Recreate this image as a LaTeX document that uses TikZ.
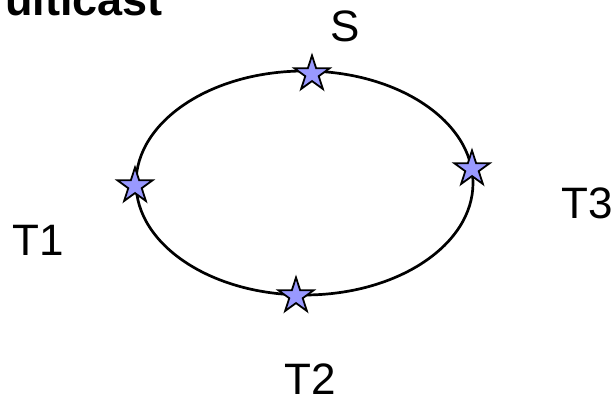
\documentclass[tikz,border=0pt]{standalone}
\usepackage{fontspec}
\setmainfont{Liberation Sans}
\usetikzlibrary{shapes.geometric}
\definecolor{starfill}{HTML}{9999FF}
\tikzset{
  site/.style={star, star points=5, star point ratio=2.618, minimum size=37pt, inner sep=0pt,
    draw=black, line width=1.8pt, fill=starfill},
  lbl/.style={inner sep=0pt, font=\fontsize{44}{50}\selectfont},
  ttl/.style={inner sep=0pt, font=\fontsize{45}{52}\selectfont\bfseries},
  ring/.style={draw=black, line width=2.7pt}
}
\begin{document}
\begin{tikzpicture}[x=1pt,y=-1pt]
\useasboundingbox (0,0) rectangle (613,401);
\clip (0,0) rectangle (613,401);
\node[ttl, anchor=base east] (title) at (163,16) {ulticast};
\draw[ring] (304.5,183) ellipse [x radius=168.5, y radius=112];
\node[site] (s) at (312,74) {};
\node[site] (t1) at (135,186) {};
\node[site] (t3) at (472,169) {};
\node[site] (t2) at (296,296) {};
\node[lbl, anchor=base] (ls) at (345,42) {S};
\node[lbl, anchor=base west] (lt1) at (12,255) {T1};
\node[lbl, anchor=base west] (lt3) at (561,218) {T3};
\node[lbl, anchor=base west] (lt2) at (284,394) {T2};
\end{tikzpicture}
\end{document}
